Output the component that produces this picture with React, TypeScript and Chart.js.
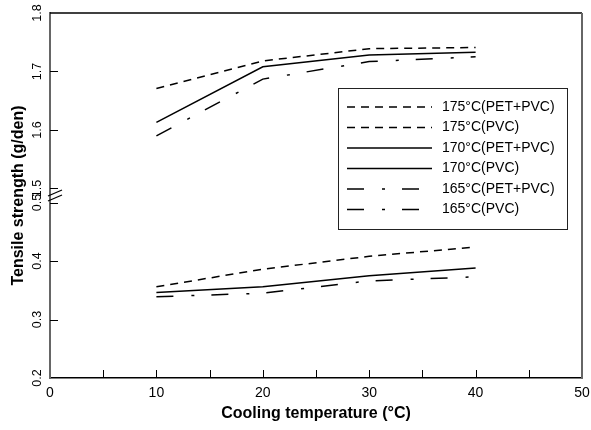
import React, { useEffect, useRef } from "react";
import { Chart, registerables } from "chart.js";

Chart.register(...registerables);

// ---- data ----
const coolingTemps = [10, 20, 30, 40];
const s175PetPvc = [1.671, 1.718, 1.739, 1.741];
const s175Pvc = [0.356, 0.386, 0.408, 0.424];
const s170PetPvc = [1.613, 1.708, 1.728, 1.733];
const s170Pvc = [0.346, 0.356, 0.375, 0.388];
const s165PetPvc = [1.59, 1.687, 1.717, 1.725];
const s165Pvc = [0.339, 0.345, 0.366, 0.373];

const seriesLabels = [
  "175°C(PET+PVC)",
  "175°C(PVC)",
  "170°C(PET+PVC)",
  "170°C(PVC)",
  "165°C(PET+PVC)",
  "165°C(PVC)",
];

const xTickValues = [0, 5, 10, 15, 20, 25, 30, 35, 40, 45, 50];
const yTicksLower = [0.2, 0.3, 0.4, 0.5];
const yTicksUpper = [1.5, 1.6, 1.7, 1.8];

const xTitle = "Cooling temperature (°C)";
const yTitle = "Tensile strength (g/den)";

// broken axis: upper segment (1.5-1.8) is shifted down to sit just above the lower one (0.2-0.5)
const BREAK_GAP = 0.024;
const UPPER_SHIFT = yTicksUpper[0] - yTicksLower[yTicksLower.length - 1] - BREAK_GAP;
const toAxis = (v: number) => (v >= 1 ? v - UPPER_SHIFT : v);
const fromAxis = (a: number) =>
  a > yTicksLower[yTicksLower.length - 1] + BREAK_GAP / 2 ? a + UPPER_SHIFT : a;

const DASH = [8, 6];
const SOLID: number[] = [];
const DASHDOT = [17, 18, 3, 17];

const FONT = "'Liberation Sans', Arial, sans-serif";

const makePoints = (vals: number[]) =>
  vals.map((v, i) => ({ x: coolingTemps[i], y: toAxis(v) }));

const decorPlugin = {
  id: "decor",
  afterDraw(chart: any) {
    const ctx = chart.ctx;
    const { left, right, top, bottom } = chart.chartArea;
    const xs = chart.scales.x;
    const ys = chart.scales.y;
    ctx.save();
    // frame top/right
    ctx.strokeStyle = "#000";
    ctx.lineWidth = 1.5;
    ctx.beginPath();
    ctx.moveTo(left, top);
    ctx.lineTo(right, top);
    ctx.stroke();
    ctx.strokeStyle = "#666";
    ctx.lineWidth = 2;
    ctx.beginPath();
    ctx.moveTo(right, top);
    ctx.lineTo(right, bottom + 0.75);
    ctx.stroke();

    // inner tick marks
    ctx.strokeStyle = "#000";
    ctx.lineWidth = 1;
    const tl = 8;
    xs.ticks.forEach((t: any) => {
      const px = xs.getPixelForValue(t.value);
      if (px <= left + 1 || px >= right - 1) return;
      ctx.beginPath();
      ctx.moveTo(Math.round(px) + 0.5, bottom);
      ctx.lineTo(Math.round(px) + 0.5, bottom - tl);
      ctx.stroke();
    });
    ys.ticks.forEach((t: any) => {
      const py = ys.getPixelForValue(t.value);
      if (py <= top + 1 || py >= bottom - 1) return;
      ctx.beginPath();
      ctx.moveTo(left, Math.round(py) + 0.5);
      ctx.lineTo(left + tl, Math.round(py) + 0.5);
      ctx.stroke();
    });
    // break slashes
    const yHi = ys.getPixelForValue(toAxis(yTicksUpper[0]));
    const yLo = ys.getPixelForValue(yTicksLower[yTicksLower.length - 1]);
    const mid = (yHi + yLo) / 2;
    ctx.lineWidth = 1.2;
    [-2.5, 2.5].forEach((d) => {
      ctx.beginPath();
      ctx.moveTo(left - 2, mid + d + 3);
      ctx.lineTo(left + 12, mid + d - 3);
      ctx.stroke();
    });

    // legend
    const bx = 338, by = 88, bw = 229, bh = 141;
    ctx.fillStyle = "#fff";
    ctx.fillRect(bx, by, bw, bh);
    ctx.strokeStyle = "#222";
    ctx.lineWidth = 1;
    ctx.strokeRect(bx + 0.5, by + 0.5, bw, bh);
    ctx.font = `14px ${FONT}`;
    ctx.textBaseline = "middle";
    ctx.textAlign = "left";
    chart.data.datasets.forEach((ds: any, i: number) => {
      const ry = by + 19 + i * 20.5;
      ctx.strokeStyle = ds.borderColor;
      ctx.lineWidth = ds.borderWidth;
      ctx.setLineDash(ds.borderDash || []);
      ctx.beginPath();
      ctx.moveTo(bx + 9, ry);
      ctx.lineTo(bx + 94, ry);
      ctx.stroke();
      ctx.setLineDash([]);
      ctx.fillStyle = "#000";
      ctx.fillText(ds.label, bx + 104, ry);
    });
    ctx.restore();
  },
};

export default function App() {
  const ref = useRef<HTMLCanvasElement | null>(null);
  useEffect(() => {
    if (!ref.current) return;
    const mk = (label: string, vals: number[], dash: number[]) => ({
      label,
      data: makePoints(vals),
      borderColor: "#000",
      backgroundColor: "#000",
      borderWidth: 1.5,
      borderDash: dash,
      pointRadius: 0,
      fill: false,
      tension: 0,
    });
    const chart = new Chart(ref.current, {
      type: "line",
      data: {
        datasets: [
          mk(seriesLabels[0], s175PetPvc, DASH),
          mk(seriesLabels[1], s175Pvc, DASH),
          mk(seriesLabels[2], s170PetPvc, SOLID),
          mk(seriesLabels[3], s170Pvc, SOLID),
          mk(seriesLabels[4], s165PetPvc, DASHDOT),
          mk(seriesLabels[5], s165Pvc, DASHDOT),
        ] as any,
      },
      options: {
        animation: false,
        responsive: false,
        devicePixelRatio: 1,
        layout: { padding: { left: 0, top: 13, right: 9, bottom: 0 } },
        plugins: { legend: { display: false }, tooltip: { enabled: false } },
        scales: {
          x: {
            type: "linear",
            min: xTickValues[0],
            max: xTickValues[xTickValues.length - 1],
            afterBuildTicks: (s: any) => {
              s.ticks = xTickValues.map((v) => ({ value: v }));
            },
            afterFit: (s: any) => {
              s.height = 52;
              s.paddingLeft = 0;
              s.paddingRight = 0;
            },
            grid: { display: false, drawTicks: false },
            border: { display: true, color: "#000", width: 1.5 },
            ticks: {
              autoSkip: false,
              maxRotation: 0,
              padding: 7,
              color: "#000",
              font: { family: FONT, size: 14 },
              callback: (v: any) => (Number(v) % 10 === 0 ? String(v) : ""),
            },
            title: {
              display: true,
              text: xTitle,
              color: "#000",
              font: { family: FONT, size: 16, weight: "bold" },
              padding: { top: 0, bottom: 7 },
            },
          },
          y: {
            type: "linear",
            min: toAxis(yTicksLower[0]),
            max: toAxis(yTicksUpper[yTicksUpper.length - 1]),
            afterBuildTicks: (s: any) => {
              s.ticks = [...yTicksLower, ...yTicksUpper].map((v) => ({ value: toAxis(v) }));
            },
            afterFit: (s: any) => {
              s.width = 50;
              s.paddingTop = 0;
              s.paddingBottom = 0;
            },
            grid: { display: false, drawTicks: false },
            border: { display: true, color: "#666", width: 2 },
            ticks: {
              autoSkip: false,
              minRotation: 90,
              maxRotation: 90,
              crossAlign: "center",
              padding: 4,
              color: "#000",
              font: { family: FONT, size: 12.5 },
              callback: (v: any) => fromAxis(Number(v)).toFixed(1),
            },
            title: {
              display: true,
              text: yTitle,
              color: "#000",
              font: { family: FONT, size: 16, weight: "bold" },
              padding: { top: 9, bottom: 0 },
            },
          },
        },
      } as any,
      plugins: [decorPlugin],
    });
    return () => chart.destroy();
  }, []);
  return (
    <div style={{ position: "absolute", left: 0, top: 0, width: 591, height: 430, background: "#fff" }}>
      <canvas ref={ref} width={591} height={430} style={{ width: 591, height: 430, display: "block" }} />
    </div>
  );
}
